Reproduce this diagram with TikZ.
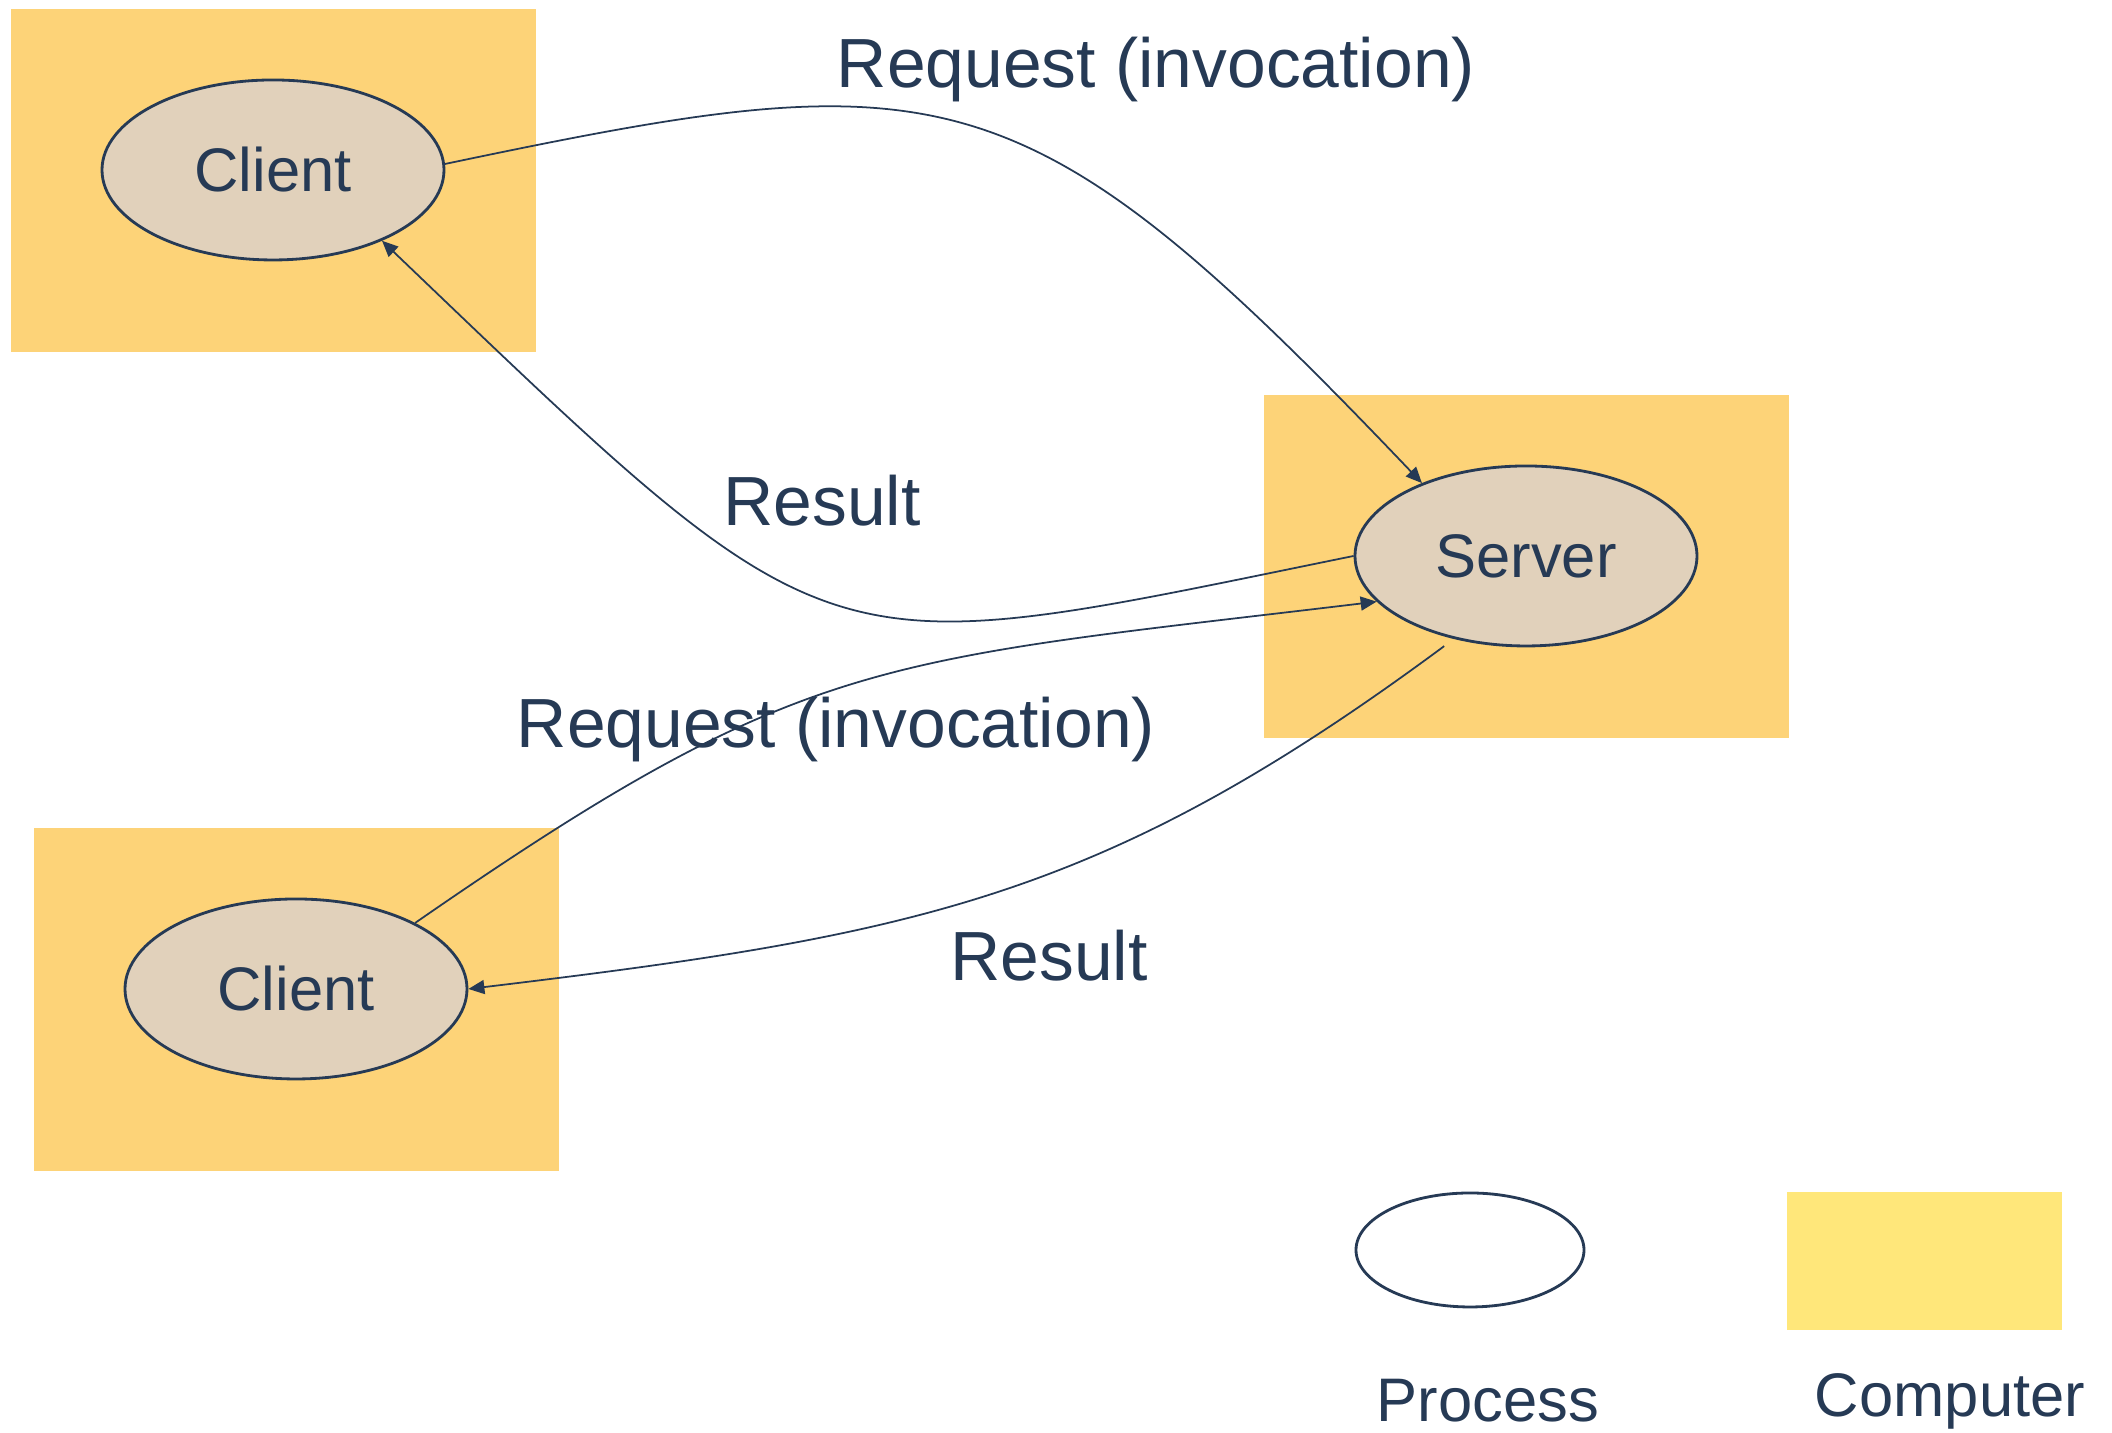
\documentclass[tikz,border=0pt]{standalone}
\usepackage{fontspec}
\setmainfont{Liberation Sans}
\usepackage{tikz}
\usetikzlibrary{shapes.geometric, arrows.meta, calc, positioning}
\definecolor{navy}{HTML}{263A55}
\definecolor{machine}{HTML}{FDD378}
\definecolor{procfill}{HTML}{E1D1BB}
\definecolor{legendfill}{HTML}{FFE77A}
\tikzstyle{computer} = [rectangle, fill=machine, minimum width=5.25cm, minimum height=3.43cm, inner sep=0pt]
\tikzstyle{process} = [ellipse, draw=navy, line width=0.8pt, fill=procfill, text=navy, minimum width=3.42cm, minimum height=1.8cm, inner sep=0pt, font=\fontsize{17.5}{20}\selectfont]
\tikzstyle{msg} = [text=navy, font=\fontsize{19.8}{23}\selectfont]
\tikzstyle{arrow} = [draw=navy, line width=0.5pt, -{Triangle[length=1.6mm, width=1.4mm]}]

\begin{document}
\begin{tikzpicture}
		\useasboundingbox (0,0) rectangle (21.12,14.33);
		% machines
		\node (Comp1) [computer] at (2.735,12.525) {};
		\node (Comp2) [computer] at (15.26,8.66) {};
		\node (Comp3) [computer] at (2.965,4.335) {};
		% processes
		\node (Client1) [process] at (2.73,12.63) {Client};
		\node (Server) [process] at (15.26,8.77) {Server};
		\node (Client2) [process] at (2.96,4.44) {Client};
		% messages
		\draw [arrow] (Client1.2) .. controls +(5,1.05) and +(-4,4.2) .. (Server.145);
		\draw [arrow] (Server.west) .. controls +(-5.4,-1.1) and +(4.6,-4.4) .. (Client1.-33);
		\draw [arrow] (Client2.29) .. controls +(3.9,2.7) and +(-5,-0.6) .. (Server.197);
		\draw [arrow, shorten <=0.12cm] (Server.229) .. controls +(-3.5,-2.59) and +(4.5,0.54) .. (Client2.east);
		\node (Req1) [msg] at (11.56,13.63) {Request (invocation)};
		\node (Res1) [msg] at (8.22,9.32) {Result};
		\node (Req2) [msg] at (8.36,7.03) {Request (invocation)};
		\node (Res2) [msg] at (10.49,4.77) {Result};
		% legend
		\node (ProcKey) [process, fill=white, minimum width=2.28cm, minimum height=1.14cm] at (14.70,1.83) {};
		\node (CompKey) [computer, fill=legendfill, minimum width=2.75cm, minimum height=1.38cm] at (19.245,1.72) {};
		\node (ProcText) [text=navy, font=\fontsize{17.5}{20}\selectfont] at (14.88,0.32) {Process};
		\node (CompText) [text=navy, font=\fontsize{17.5}{20}\selectfont] at (19.50,0.32) {Computer};
		\end{tikzpicture}
\end{document}
